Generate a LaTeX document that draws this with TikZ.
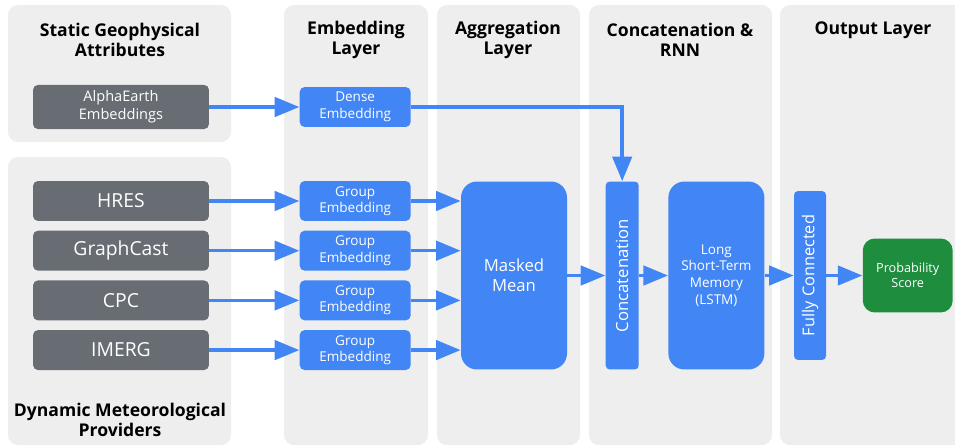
\documentclass[tikz,border=0pt]{standalone}
\usepackage{fontspec}
\setmainfont{Open Sans}
\usepackage{graphicx}
\usetikzlibrary{arrows.meta, positioning}
\definecolor{panel}{RGB}{238,238,238}
\definecolor{slate}{RGB}{103,109,114}
\definecolor{gblue}{RGB}{66,133,244}
\definecolor{ggreen}{RGB}{30,142,62}

\begin{document}
\begin{tikzpicture}[x=0.02cm, y=-0.02cm, node distance=0.18cm and 1.8cm,
  pane/.style={fill=panel, rounded corners=0.2cm},
  ttl/.style={font=\fontsize{10}{11.5}\selectfont\bfseries, align=center},
  src/.style={rectangle, rounded corners=0.1cm, fill=slate, text=white,
              minimum width=3.52cm, minimum height=0.8cm, align=center,
              font=\fontsize{11}{13}\selectfont},
  emb/.style={rectangle, rounded corners=0.1cm, fill=gblue, text=white,
              minimum width=2.22cm, minimum height=0.8cm, align=center,
              inner sep=1pt, font=\fontsize{7.7}{9.4}\selectfont},
  big/.style={rectangle, rounded corners=0.32cm, fill=gblue, text=white,
              minimum width=2.12cm, minimum height=3.76cm, align=center},
  bar/.style={rectangle, rounded corners=0.08cm, fill=gblue, text=white,
              minimum width=0.66cm, minimum height=3.76cm, inner sep=0pt,
              font=\fontsize{9.5}{11}\selectfont},
  res/.style={rectangle, rounded corners=0.24cm, fill=ggreen, text=white,
              minimum width=1.8cm, minimum height=1.48cm, align=center,
              font=\fontsize{7.2}{8.6}\selectfont},
  a/.style={-{Triangle[length=14pt, width=11pt]}, line width=2pt, draw=gblue}]
  \useasboundingbox (0,0) rectangle (955,446);

  % column panels
  \fill[pane] (8,5) rectangle (231,142);
  \fill[pane] (8,157) rectangle (231,445);
  \fill[pane] (284,5) rectangle (428,445);
  \fill[pane] (437,5) rectangle (580,445);
  \fill[pane] (589,5) rectangle (772,445);
  \fill[pane] (780,5) rectangle (975,445);

  \node[ttl] (t1) at (120,40) {Static Geophysical\\Attributes};
  \node[ttl] (t2) at (356,40) {Embedding\\Layer};
  \node[ttl] (t3) at (508,40) {Aggregation\\Layer};
  \node[ttl] (t4) at (680,40) {Concatenation \&\\RNN};
  \node[ttl] (t5) at (873,30) {Output Layer};
  \node[ttl] (t6) at (120,420) {Dynamic Meteorological\\Providers};

  % sources
  \node[src, minimum height=0.88cm, font=\fontsize{8.3}{10.2}\selectfont] (alpha) at (121,107) {AlphaEarth\\Embeddings};
  \node[src] (hres) at (121,201) {HRES};
  \node[src, below=of hres] (gcast) {GraphCast};
  \node[src, below=of gcast] (cpc) {CPC};
  \node[src, below=of cpc] (imerg) {IMERG};

  % embeddings
  \node[emb, right=of alpha] (dense) {Dense\\Embedding};
  \node[emb, right=of hres] (g1) {Group\\Embedding};
  \node[emb, right=of gcast] (g2) {Group\\Embedding};
  \node[emb, right=of cpc] (g3) {Group\\Embedding};
  \node[emb, right=of imerg] (g4) {Group\\Embedding};

  % main path
  \node[big, font=\fontsize{9.5}{11.5}\selectfont] (mean) at (514,275.5) {Masked\\Mean};
  \node[bar, right=0.76cm of mean] (concat) {\rotatebox{90}{Concatenation}};
  \node[big, minimum width=1.92cm, font=\fontsize{7.7}{9.5}\selectfont, right=0.58cm of concat] (lstm)
    {Long\\Short-Term\\Memory\\(LSTM)};
  \node[bar, minimum width=0.64cm, minimum height=3.38cm, font=\fontsize{9.3}{11}\selectfont,
    right=0.58cm of lstm] (fc) {\rotatebox{90}{Fully Connected}};
  \node[res, right=0.72cm of fc] (prob) {Probability\\Score};

  \draw[a] (alpha) -- (dense);
  \draw[a] (hres) -- (g1);
  \draw[a] (gcast) -- (g2);
  \draw[a] (cpc) -- (g3);
  \draw[a] (imerg) -- (g4);
  \draw[a] (dense.east) -| (concat.north);
  \foreach \g in {g1,g2,g3,g4}
    \draw[a] (\g.east) -- (\g.east -| mean.west);
  \draw[a] (mean) -- (concat);
  \draw[a] (concat) -- (lstm);
  \draw[a] (lstm) -- (fc);
  \draw[a] (fc) -- (prob);
\end{tikzpicture}
\end{document}
